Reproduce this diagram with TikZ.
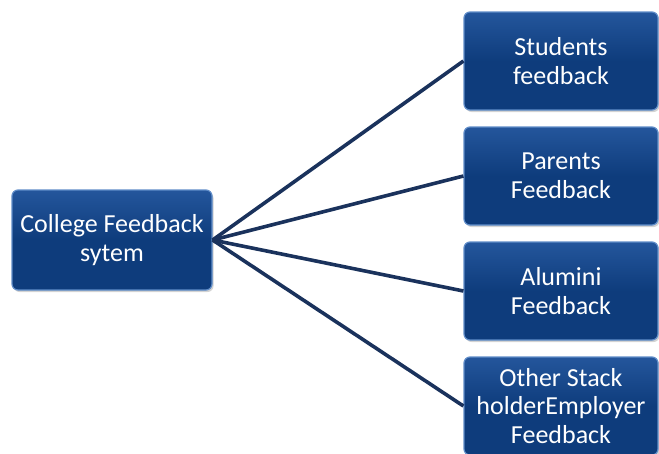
\documentclass[tikz,border=0pt]{standalone}
\usepackage{fontspec}
\setmainfont{Carlito}
\usepackage{tikz}
\usetikzlibrary{shadows}

\definecolor{boxblue}{RGB}{14,60,124}
\definecolor{boxtop}{RGB}{36,86,156}
\definecolor{boxrim}{RGB}{95,140,200}
\definecolor{linknavy}{RGB}{26,50,92}

\tikzset{
  fbbox/.style={rectangle, rounded corners=6pt, draw=boxrim, line width=1.2pt,
    top color=boxtop, bottom color=boxblue, middle color=boxblue,
    text=white, align=center, inner sep=0pt,
    font=\fontsize{26}{28.5}\selectfont,
    drop shadow={shadow xshift=1.5pt, shadow yshift=-2pt, opacity=0.35}},
  fblink/.style={draw=linknavy, line width=3.6pt}
}

\begin{document}
\begin{tikzpicture}[x=1pt,y=-1pt]
            \useasboundingbox (0,0) rectangle (659,453);

            \node[fbbox, minimum width=200pt, minimum height=100pt] (college) at (112,240) {College Feedback\\sytem};

            \node[fbbox, minimum width=194pt, minimum height=98pt] (students) at (561,61) {Students\\feedback};
            \node[fbbox, minimum width=194pt, minimum height=98pt] (parents) at (561,176) {Parents\\Feedback};
            \node[fbbox, minimum width=194pt, minimum height=98pt] (alumni) at (561,291) {Alumini\\Feedback};
            \node[fbbox, minimum width=194pt, minimum height=98pt] (other) at (561,406) {Other Stack\\holderEmployer\\Feedback};

            \draw[fblink] (college.east) -- (students.west);
            \draw[fblink] (college.east) -- (parents.west);
            \draw[fblink] (college.east) -- (alumni.west);
            \draw[fblink] (college.east) -- (other.west);
        \end{tikzpicture}
\end{document}
